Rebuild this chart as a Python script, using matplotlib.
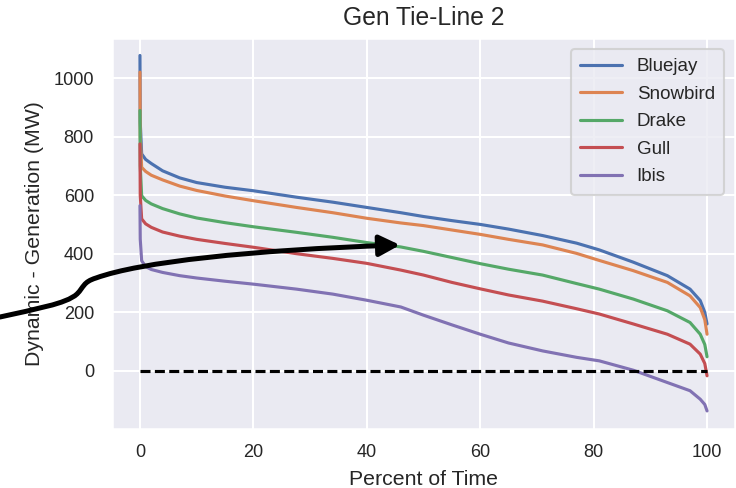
import matplotlib
matplotlib.use("Agg")
import matplotlib.pyplot as plt
import seaborn as sns
from matplotlib.path import Path
from matplotlib.patches import FancyArrowPatch, ArrowStyle

sns.set_theme(style="darkgrid")
plt.rcParams['font.family'] = ['Liberation Sans', 'DejaVu Sans']

# Percent of time (duration curve abscissa)
pct = [0, 0.05, 0.3, 1, 2, 4, 7, 10, 15, 20, 27.6, 34, 40, 46, 50, 55, 60,
       65, 71, 77, 81, 87, 93, 97, 98.8, 99.6, 100]

bluejay = [1077, 850, 741, 722, 708, 683, 659, 643, 627, 615, 593, 576, 558,
           540, 527, 513, 500, 484, 462, 436, 413, 371, 325, 279, 240, 200, 160]
snowbird = [1020, 800, 695, 681, 668, 652, 631, 616, 597, 581, 558, 540, 521,
            505, 496, 481, 466, 449, 430, 401, 377, 342, 302, 256, 216, 175, 125]
drake = [889, 700, 598, 582, 570, 554, 536, 522, 506, 492, 473, 456, 438,
         423, 408, 387, 366, 347, 327, 298, 279, 245, 205, 165, 125, 90, 48]
gull = [775, 600, 519, 502, 490, 474, 460, 449, 435, 422, 400, 384, 367,
        344, 327, 302, 280, 259, 238, 212, 194, 160, 125, 91, 57, 25, -17]
ibis = [564, 450, 376, 356, 346, 336, 325, 317, 306, 296, 279, 262, 241,
        218, 190, 157, 125, 95, 68, 46, 34, 2, -40, -68, -97, -115, -137]

series = {"Bluejay": bluejay, "Snowbird": snowbird, "Drake": drake,
          "Gull": gull, "Ibis": ibis}

fig = plt.figure(figsize=(736 / 150, 488 / 150), dpi=150)
ax = fig.add_axes([111.6 / 736, 1 - 428.7 / 488, (735.4 - 111.6) / 736,
                   (428.7 - 37.7) / 488])

for name, vals in series.items():
    ax.plot(pct, vals, lw=1.5, label=name)

ax.plot([0, 100], [0, 0], color='black', lw=1.5, linestyle=(0, (3.2, 1.4)))

ax.set_title("Gen Tie-Line 2", fontsize=11.8, pad=6)
ax.set_xlabel("Percent of Time", fontsize=10.2, labelpad=4.4)
ax.set_ylabel("Dynamic - Generation (MW)", fontsize=10.2, labelpad=4.6)
ax.set_xticks([0, 20, 40, 60, 80, 100])
ax.set_yticks([0, 200, 400, 600, 800, 1000])
ax.tick_params(axis='x', labelsize=8.7, pad=7.5, length=0)
ax.tick_params(axis='y', labelsize=8.7, pad=8.5, length=0)
ax.legend(loc='upper right', fontsize=9, labelspacing=0.55,
          handlelength=2.2, borderpad=0.5, borderaxespad=0.6)

# Curved annotation arrow (figure pixel coordinates, y measured from top)
W, H = 736.0, 488.0
pts_px = [(0, 317), (35, 309), (66, 304), (77, 294),
          (84, 287), (83, 282), (96, 278),
          (140, 262), (250, 250), (400, 245)]
verts = [(x / W, 1 - y / H) for x, y in pts_px]
codes = [Path.MOVETO] + [Path.CURVE4] * 9
arrow = FancyArrowPatch(path=Path(verts, codes),
                        arrowstyle=ArrowStyle('-|>', head_length=0.82, head_width=0.42),
                        mutation_scale=10, lw=2.4, color='black',
                        transform=fig.transFigure, zorder=10)
fig.patches.append(arrow)

fig.savefig("out.png", dpi=150)
